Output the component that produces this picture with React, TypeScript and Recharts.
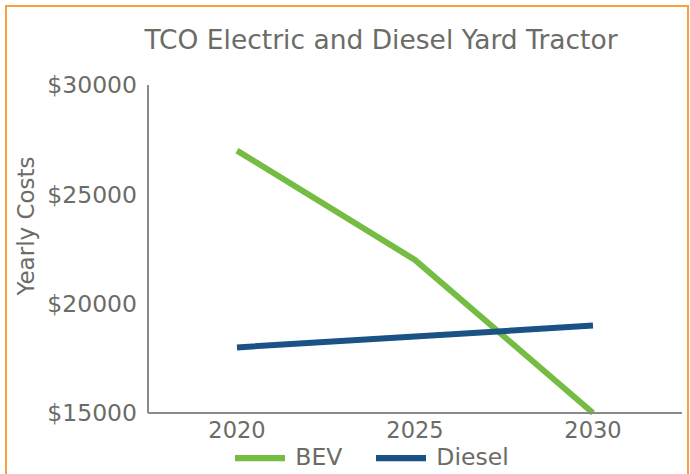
import React from 'react';
import { LineChart, Line, XAxis, YAxis, Legend, Label } from 'recharts';

const years = ['2020', '2025', '2030'];
const bev = [27000, 22000, 15000];
const diesel = [18000, 18500, 19000];
const yTicks = [15000, 20000, 25000, 30000];

const data = years.map((y, i) => ({ year: y, BEV: bev[i], Diesel: diesel[i] }));

const FONT = '"DejaVu Sans", sans-serif';
const GRAY = '#6b6c66';

export default function App() {
  return (
    <div style={{ position: 'absolute', left: 0, top: 0, width: 690, height: 474, background: '#fff', overflow: 'hidden' }}>
      <div style={{ position: 'absolute', left: 5, top: 5, width: 680, height: 480, border: '2px solid #f6a23c' }} />
      <div style={{ position: 'absolute', left: 0, width: 762, top: 24, textAlign: 'center', fontFamily: FONT, fontSize: 26.5, color: GRAY, whiteSpace: 'nowrap' }}>
        TCO Electric and Diesel Yard Tractor
      </div>
      <div style={{ position: 'absolute', left: 0, top: 0 }}>
        <LineChart width={690} height={474} data={data} margin={{ top: 85, right: 8, bottom: 31, left: 0 }}>
          <XAxis
            dataKey="year"
            scale="band"
            height={30}
            tickLine={false}
            tickMargin={3}
            axisLine={{ stroke: '#8a8a8a', strokeWidth: 2 }}
            tick={{ fill: GRAY, fontSize: 22.5, fontFamily: FONT }}
          />
          <YAxis
            width={148}
            domain={[15000, 30000]}
            ticks={yTicks}
            tickLine={false}
            tickMargin={5}
            tickFormatter={(v: number) => `$${v}`}
            axisLine={{ stroke: '#8a8a8a', strokeWidth: 2 }}
            tick={{ fill: GRAY, fontSize: 23.5, fontFamily: FONT }}
          >
            <Label
              content={(props: any) => {
                const vb = props.viewBox || { x: 0, y: 85, width: 148, height: 328 };
                const cx = vb.x + 26;
                const cy = vb.y + vb.height / 2 - 23;
                return (
                  <text x={cx} y={cy} transform={`rotate(-90 ${cx} ${cy})`} textAnchor="middle" dominantBaseline="central" fill={GRAY} fontSize={23} fontFamily={FONT}>
                    Yearly Costs
                  </text>
                );
              }}
            />
          </YAxis>
          <Legend
            verticalAlign="middle"
            align="center"
            layout="horizontal"
            iconType="plainline"
            iconSize={50}
            wrapperStyle={{ position: 'absolute', top: 433, left: 122, width: 534, fontFamily: FONT, fontSize: 23.5, lineHeight: '30px' }}
            formatter={(value: string) => <span style={{ color: GRAY, marginLeft: 6, marginRight: 24 }}>{value}</span>}
          />
          <Line type="linear" dataKey="BEV" stroke="#74bc42" strokeWidth={6} dot={false} isAnimationActive={false} />
          <Line type="linear" dataKey="Diesel" stroke="#1a5286" strokeWidth={6} dot={false} isAnimationActive={false} />
        </LineChart>
      </div>
    </div>
  );
}
